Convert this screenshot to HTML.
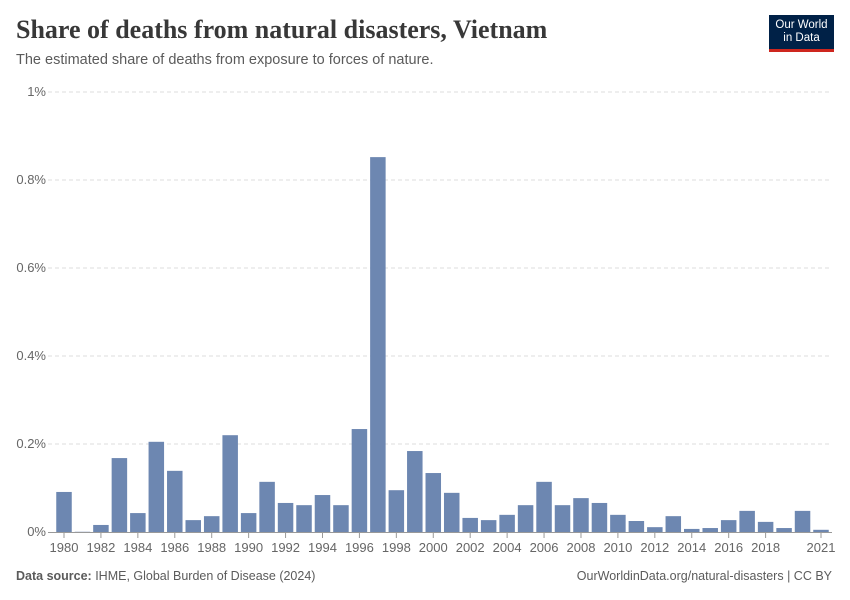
<!DOCTYPE html>
<html><head><meta charset="utf-8">
<style>
body{margin:0;background:#fff;width:850px;height:600px;overflow:hidden;font-family:"Liberation Sans",sans-serif;}
#title{position:absolute;left:16px;top:15px;font-family:"Liberation Serif",serif;font-size:26px;color:#383838;margin:0;font-weight:bold;}
#sub{position:absolute;left:16px;top:52px;font-size:14.5px;color:#5b5b5b;}
#logo{position:absolute;left:769px;top:15px;width:65px;height:37px;background:#002147;color:#fff;font-size:11.5px;text-align:center;line-height:13px;padding-top:4px;box-sizing:border-box;border-bottom:3px solid #ce261e;}
#foot-l{position:absolute;left:16px;top:569px;font-size:12.5px;color:#5b5b5b;}
#foot-r{position:absolute;right:18px;top:569px;font-size:12.5px;color:#5b5b5b;}
</style></head><body>
<h1 id="title">Share of deaths from natural disasters, Vietnam</h1>
<div id="sub">The estimated share of deaths from exposure to forces of nature.</div>
<div id="logo">Our World<br>in Data</div>
<svg id="chart" width="850" height="600" style="position:absolute;left:0;top:0"></svg>
<div id="foot-l"><b>Data source:</b> IHME, Global Burden of Disease (2024)</div>
<div id="foot-r">OurWorldinData.org/natural-disasters | CC BY</div>
<script>
const years=[1980,1981,1982,1983,1984,1985,1986,1987,1988,1989,1990,1991,1992,1993,1994,1995,1996,1997,1998,1999,2000,2001,2002,2003,2004,2005,2006,2007,2008,2009,2010,2011,2012,2013,2014,2015,2016,2017,2018,2019,2020,2021];
const values=[0.091,0.0005,0.016,0.168,0.043,0.205,0.139,0.027,0.036,0.22,0.043,0.114,0.066,0.061,0.084,0.061,0.234,0.852,0.095,0.184,0.134,0.089,0.032,0.027,0.039,0.061,0.114,0.061,0.077,0.066,0.039,0.025,0.011,0.036,0.007,0.009,0.027,0.048,0.023,0.009,0.048,0.005];
const yTicks=[0,0.2,0.4,0.6,0.8,1];
const yTickLabels=["0%","0.2%","0.4%","0.6%","0.8%","1%"];
const xTickYears=[1980,1982,1984,1986,1988,1990,1992,1994,1996,1998,2000,2002,2004,2006,2008,2010,2012,2014,2016,2018,2021];
const svg=document.getElementById('chart');
const NS='http://www.w3.org/2000/svg';
const y=v=>532-v*440;
const x=yr=>64+(yr-1980)*(821-64)/41;
const bw=15.5;
function mk(t,a){const e=document.createElementNS(NS,t);for(const k in a)e.setAttribute(k,a[k]);svg.appendChild(e);return e;}
yTicks.forEach((v,i)=>{
  if(v>0){const l=mk('line',{x1:48,x2:832,y1:y(v),y2:y(v),stroke:'#ddd','stroke-dasharray':'4,3'});
  
  }
  const t=mk('text',{x:46,y:y(v)+4,'text-anchor':'end','font-size':13,fill:'#666','font-family':'Liberation Sans'});
  t.textContent=yTickLabels[i];
  
  
});
years.forEach((yr,i)=>{
  const r=mk('rect',{x:x(yr)-bw/2,y:y(values[i]),width:bw,height:532-y(values[i]),fill:'#6d87b1'});
  
  
});
const ax=mk('line',{x1:48,x2:832,y1:532.5,y2:532.5,stroke:'#999'});


xTickYears.forEach(yr=>{
  const tk=mk('line',{x1:x(yr),x2:x(yr),y1:533,y2:538,stroke:'#999'});
  
  
  const t=mk('text',{x:x(yr),y:552,'text-anchor':'middle','font-size':13,fill:'#666','font-family':'Liberation Sans'});
  t.textContent=yr;
  
  
});
</script>
</body></html>
